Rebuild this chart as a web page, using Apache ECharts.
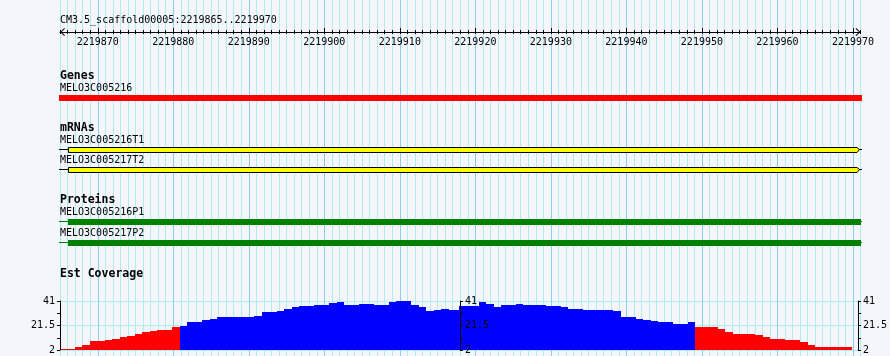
<!DOCTYPE html>
<html>
<head>
<meta charset="utf-8">
<script src="https://cdn.jsdelivr.net/npm/echarts@6/dist/echarts.min.js"></script>
<style>
html,body{margin:0;padding:0;background:#f4f6fb;}
#c{width:890px;height:356px;}
</style>
</head>
<body>
<div id="c"></div>
<script>
// ---------------- DATA ----------------
const regionTitle = 'CM3.5_scaffold00005:2219865..2219970';
const viewStart = 2219865;
const viewEnd = 2219971;
const rulerTicks = [2219870, 2219880, 2219890, 2219900, 2219910, 2219920, 2219930, 2219940, 2219950, 2219960, 2219970];

const trackTitles = ['Genes', 'mRNAs', 'Proteins', 'Est Coverage'];

const featureLabels = ['MELO3C005216', 'MELO3C005216T1', 'MELO3C005217T2', 'MELO3C005216P1', 'MELO3C005217P2'];
const featureKinds = ['gene', 'mrna', 'mrna', 'protein', 'protein'];
// visible extent of each feature (clipped at the panel edges)
const featureSpanStart = [2219864.87, 2219864.87, 2219864.87, 2219864.87, 2219864.87];
const featureSpanEnd = [2219971.2, 2219971.2, 2219971.2, 2219971.2, 2219971.2];
// solid part (exon / CDS box)
const featureBoxStart = [2219864.87, 2219866.1, 2219866.1, 2219866.1, 2219866.1];
const featureBoxEnd = [2219971.2, 2219970.5, 2219970.5, 2219971.07, 2219971.07];

const coverageMin = 2;
const coverageMax = 41;
const coverageStep = 19.5;
const coveragePivot = 21;
const coverageBins = 106;
const coverageSplit = 53.5;
const coverageLeft = [
  3.1, 3.1, 4.4, 6.0, 9.4, 9.4, 10.2, 11.0, 12.4, 13.4,
  15.0, 16.6, 17.4, 18.2, 18.2, 20.6, 21.4, 24.6, 24.6, 26.1,
  26.9, 28.5, 28.5, 28.5, 28.5, 28.5, 29.3, 32.5, 32.5, 33.3,
  34.6, 36.5, 37.0, 37.0, 38.1, 38.1, 39.2, 40.2, 38.1, 38.1,
  38.9, 38.9, 38.1, 38.1, 40.2, 41.0, 41.0, 38.1, 36.2, 33.3,
  34.1, 34.9, 33.8, 33.8
];
const coverageRightFirstBin = 53;
const coverageRight = [
  37.0, 37.0, 37.0, 40.2, 38.9, 36.2, 38.1, 38.1, 38.9, 38.1,
  38.1, 38.1, 37.3, 37.3, 36.2, 34.6, 34.6, 33.8, 33.8, 33.8,
  33.8, 33.0, 28.5, 28.5, 26.9, 25.9, 25.1, 24.3, 24.3, 23.0,
  23.0, 24.3, 20.3, 20.3, 20.3, 18.7, 16.6, 14.7, 14.7, 14.7,
  13.9, 12.4, 10.8, 10.8, 10.0, 10.0, 8.4, 6.2, 4.4, 4.4,
  4.4, 4.4, 4.4
];

// ---------------- LAYOUT & STYLE ----------------
const LAYOUT = {
  plotLeft: 60, plotWidth: 800.5,
  rulerAxisY: 32,
  covTop: 301, covHeight: 49, covFrameWidth: 801, binPx: 7.4755,
  featureRowTop: [95, 147, 167, 219, 240], featureRowH: 6,
  featureLabelY: [88, 140, 160, 212, 233],
  trackTitleY: [76, 127.7, 200, 274],
  regionTitleY: 20.5, textX: 60
};
const COLORS = {
  bg: '#f4f6fb', grid: '#afeeee', gridMajor: '#87cefa',
  gene: '#ff0000', mrna: '#ffff00', protein: '#008000',
  covHigh: '#0000ff', covLow: '#ff0000', ink: '#000000'
};
const FONT = 'DejaVu Sans Mono';
const smallFont = '10px "' + FONT + '"';
const boldFont = 'bold 11.5px "' + FONT + '"';

// ---------------- CHART ----------------
const chart = echarts.init(document.getElementById('c'), null, {renderer: 'canvas', width: 890, height: 356});

const covLeftW = coverageSplit * LAYOUT.binPx;
const covRightW = (coverageBins - coverageSplit) * LAYOUT.binPx;

function textEl(str, x, y, font) {
  return {
    type: 'text', x: x, y: y, z: 10,
    style: {text: str, font: font, fill: COLORS.ink, textAlign: 'left', textVerticalAlign: 'middle', verticalAlign: 'middle'}
  };
}
const graphics = [textEl(regionTitle, LAYOUT.textX, LAYOUT.regionTitleY, smallFont)];
trackTitles.forEach((t, i) => graphics.push(textEl(t, LAYOUT.textX, LAYOUT.trackTitleY[i], boldFont)));
featureLabels.forEach((t, i) => graphics.push(textEl(t, LAYOUT.textX, LAYOUT.featureLabelY[i], smallFont)));

function featureItem(params, api) {
  const idx = api.value(4);
  const kind = featureKinds[idx];
  const xs = api.coord([api.value(0), 0])[0];
  const xe = api.coord([api.value(1), 0])[0];
  const bs = Math.round(api.coord([api.value(2), 0])[0]);
  const be = Math.round(api.coord([api.value(3), 0])[0]);
  const top = LAYOUT.featureRowTop[idx];
  const h = LAYOUT.featureRowH;
  const mid = top + 2.5;
  const children = [];
  if (kind === 'gene') {
    children.push({type: 'rect', shape: {x: xs, y: top, width: xe - xs, height: h}, style: {fill: COLORS.gene}});
  } else if (kind === 'mrna') {
    children.push({type: 'line', shape: {x1: xs, y1: mid, x2: bs, y2: mid}, style: {stroke: COLORS.ink, lineWidth: 1}});
    children.push({type: 'line', shape: {x1: be + 2, y1: mid, x2: xe, y2: mid}, style: {stroke: COLORS.ink, lineWidth: 1}});
    children.push({type: 'polygon', shape: {points: [[bs + 0.5, top + 0.5], [be, top + 0.5], [be + 2.5, mid], [be, top + 5.5], [bs + 0.5, top + 5.5]]},
      style: {fill: COLORS.mrna, stroke: COLORS.ink, lineWidth: 1}});
  } else {
    children.push({type: 'line', shape: {x1: xs, y1: mid, x2: bs, y2: mid}, style: {stroke: COLORS.protein, lineWidth: 1}});
    children.push({type: 'line', shape: {x1: be, y1: mid, x2: xe, y2: mid}, style: {stroke: COLORS.protein, lineWidth: 1}});
    children.push({type: 'rect', shape: {x: bs, y: top, width: be - bs, height: h}, style: {fill: COLORS.protein}});
  }
  return {type: 'group', children: children};
}

function coverageItem(params, api) {
  const i = api.value(0), v = api.value(1);
  const p0 = api.coord([i, coverageMin]);
  const p1 = api.coord([i + 1, v]);
  const x0 = Math.round(p0[0]), x1 = Math.round(p1[0]);
  const yb = Math.round(p0[1]), yt = Math.round(p1[1]);
  return {type: 'rect', shape: {x: x0, y: yt, width: x1 - x0, height: yb - yt},
    style: {fill: v < coveragePivot ? COLORS.covLow : COLORS.covHigh}};
}

const hiddenAxisParts = {axisLine: {show: false}, axisTick: {show: false}, axisLabel: {show: false}, splitLine: {show: false}};

function covYAxis(gridIndex, position, extra) {
  return Object.assign({
    type: 'value', gridIndex: gridIndex, position: position, min: coverageMin, max: coverageMax, interval: coverageStep, z: 5,
    axisLine: {show: true, onZero: false, lineStyle: {color: COLORS.ink, width: 1}},
    axisTick: {show: true, length: 3, lineStyle: {color: COLORS.ink}},
    minorTick: {show: true, splitNumber: 2, length: 3, lineStyle: {color: COLORS.ink}},
    axisLabel: {show: true, margin: 5, color: COLORS.ink, fontFamily: FONT, fontSize: 10, formatter: v => String(v)},
    splitLine: {show: false}
  }, extra || {});
}

const option = {
  animation: false,
  backgroundColor: COLORS.bg,
  textStyle: {fontFamily: FONT},
  grid: [
    {left: LAYOUT.plotLeft, top: 0, width: LAYOUT.plotWidth, height: 356},
    {left: LAYOUT.plotLeft, top: 0, width: LAYOUT.plotWidth, height: LAYOUT.rulerAxisY},
    {left: LAYOUT.plotLeft, top: LAYOUT.covTop, width: LAYOUT.covFrameWidth, height: LAYOUT.covHeight},
    {left: LAYOUT.plotLeft, top: LAYOUT.covTop, width: covLeftW, height: LAYOUT.covHeight},
    {left: LAYOUT.plotLeft + covLeftW, top: LAYOUT.covTop, width: covRightW, height: LAYOUT.covHeight}
  ],
  xAxis: [
    // 0: minor grid lines every base
    {type: 'value', gridIndex: 0, min: viewStart, max: viewEnd, interval: 1, z: 0,
      axisLine: {show: false}, axisTick: {show: false}, axisLabel: {show: false},
      splitLine: {show: true, lineStyle: {color: COLORS.grid, width: 1}}},
    // 1: major grid lines every 10 bases
    {type: 'value', gridIndex: 0, min: viewStart, max: viewEnd, z: 1,
      axisLine: {show: false}, axisTick: {show: false, customValues: rulerTicks},
      axisLabel: {show: false, customValues: rulerTicks},
      splitLine: {show: true, lineStyle: {color: COLORS.gridMajor, width: 1}}},
    // 2: ruler line + upward minor ticks
    {type: 'value', gridIndex: 1, position: 'bottom', min: viewStart, max: viewEnd, interval: 1, z: 4,
      axisLine: {show: true, onZero: false, lineStyle: {color: COLORS.ink, width: 1},
        symbol: ['path://M4,0 L8,4.2 L7.3,4.9 L4,1.4 L0.7,4.9 L0,4.2 Z', 'path://M4,0 L8,4.2 L7.3,4.9 L4,1.4 L0.7,4.9 L0,4.2 Z'],
        symbolSize: [8, 5], symbolOffset: [2.5, -2.5]},
      axisTick: {show: true, inside: true, length: 2, lineStyle: {color: COLORS.ink}},
      axisLabel: {show: false}, splitLine: {show: false}},
    // 3: downward minor ticks
    {type: 'value', gridIndex: 1, position: 'bottom', min: viewStart, max: viewEnd, interval: 1, z: 4,
      axisLine: {show: false, onZero: false},
      axisTick: {show: true, inside: false, length: 2, lineStyle: {color: COLORS.ink}},
      axisLabel: {show: false}, splitLine: {show: false}},
    // 4: major ticks and labels
    {type: 'value', gridIndex: 1, position: 'bottom', min: viewStart, max: viewEnd, z: 4,
      axisLine: {show: false, onZero: false},
      axisTick: {show: true, inside: true, length: 4, customValues: rulerTicks, lineStyle: {color: COLORS.ink}},
      axisLabel: {show: true, customValues: rulerTicks, margin: 5, color: COLORS.ink, fontFamily: FONT, fontSize: 10,
        formatter: v => String(v)},
      splitLine: {show: false}},
    // 5: coverage frame (hidden)
    Object.assign({type: 'value', gridIndex: 2, min: 0, max: 1, show: false}, hiddenAxisParts),
    // 6: left coverage feature bins
    Object.assign({type: 'value', gridIndex: 3, min: 0, max: coverageSplit, show: false}, hiddenAxisParts),
    // 7: right coverage feature bins
    Object.assign({type: 'value', gridIndex: 4, min: coverageSplit, max: coverageBins, show: false}, hiddenAxisParts)
  ],
  yAxis: [
    Object.assign({type: 'value', gridIndex: 0, min: 0, max: 1, show: false}, hiddenAxisParts),
    Object.assign({type: 'value', gridIndex: 1, min: 0, max: 1, show: false}, hiddenAxisParts),
    // 2: left coverage axis
    covYAxis(2, 'left', {axisLabel: {show: true, margin: 5, color: COLORS.ink, fontFamily: FONT, fontSize: 10, formatter: v => String(v)}}),
    // 3: right coverage axis
    covYAxis(2, 'right'),
    // 4: horizontal grid lines of coverage
    {type: 'value', gridIndex: 2, position: 'left', min: coverageMin, max: coverageMax, interval: coverageStep, z: 0,
      axisLine: {show: false, onZero: false}, axisTick: {show: false}, axisLabel: {show: false},
      splitLine: {show: true, lineStyle: {color: COLORS.grid, width: 1}}},
    // 5: middle axis (right edge of the first coverage feature)
    covYAxis(3, 'right'),
    // 6: hidden axis for second feature
    Object.assign({type: 'value', gridIndex: 4, min: coverageMin, max: coverageMax, show: false}, hiddenAxisParts)
  ],
  graphic: {elements: graphics},
  series: [
    {type: 'custom', name: 'features', xAxisIndex: 0, yAxisIndex: 0, clip: false, z: 3,
      renderItem: featureItem,
      data: featureLabels.map((n, i) => [featureSpanStart[i], featureSpanEnd[i], featureBoxStart[i], featureBoxEnd[i], i])},
    {type: 'custom', name: 'coverageLeft', xAxisIndex: 6, yAxisIndex: 5, clip: true, z: 2,
      renderItem: coverageItem,
      data: coverageLeft.map((v, i) => [i, v])},
    {type: 'custom', name: 'coverageRight', xAxisIndex: 7, yAxisIndex: 6, clip: true, z: 2,
      renderItem: coverageItem,
      data: coverageRight.map((v, k) => [coverageRightFirstBin + k, v])}
  ]
};
chart.setOption(option);
</script>
</body>
</html>
